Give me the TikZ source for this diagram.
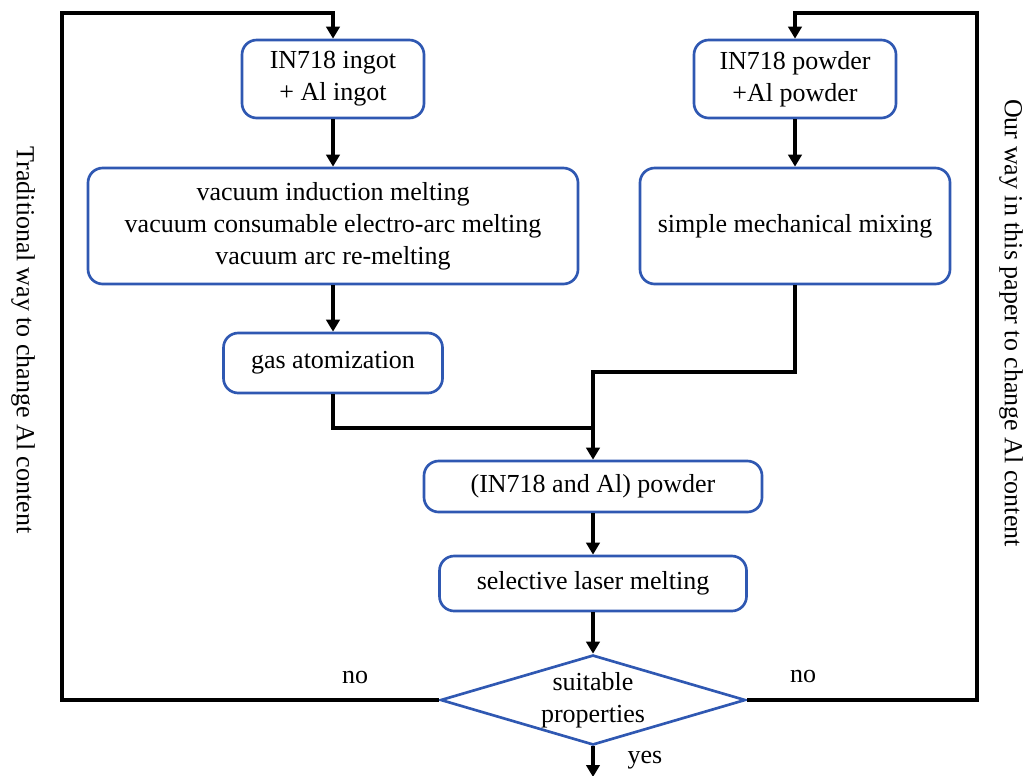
\documentclass[tikz,border=0pt]{standalone}
\usepackage{fontspec}
\setmainfont{Liberation Serif}
\usetikzlibrary{arrows.meta,shapes.geometric}
\definecolor{boxblue}{RGB}{47,88,178}

\tikzset{every picture/.style={line width=0.75pt}}

\begin{document}
\begin{tikzpicture}[x=0.75pt,y=0.75pt,yscale=-1,xscale=1,
	txt/.style={font=\fontsize{19.5}{24}\selectfont},
	procbox/.style={txt,draw=boxblue,line width=2pt,rounded corners=11pt,align=center,inner sep=0pt,execute at end node={\vspace*{-6pt}}},
	decbox/.style={txt,diamond,draw=boxblue,line width=2pt,align=center,inner sep=0pt,aspect=3.4},
	flow/.style={line width=3pt,-{Triangle[width=10pt,length=9pt]}},
	bare/.style={line width=3pt}]
	\useasboundingbox (0,0) rectangle (1031,775);

	%Shape: Rounded Rect [id:ingot] 
	\node [procbox,minimum width=136.5pt,minimum height=58.5pt] (ingot) at (333,79) {IN718 ingot\\+ Al ingot};
	%Shape: Rounded Rect [id:vacmelt] 
	\node [procbox,minimum width=367.5pt,minimum height=87pt] (vacmelt) at (333,226) {vacuum induction melting\\vacuum consumable electro-arc melting\\vacuum arc re-melting};
	%Shape: Rounded Rect [id:gas] 
	\node [procbox,minimum width=164.25pt,minimum height=45pt] (gas) at (333,363) {gas atomization};
	%Shape: Rounded Rect [id:powder] 
	\node [procbox,minimum width=151.5pt,minimum height=58.5pt] (powder) at (795,79) {IN718 powder\\+Al powder};
	%Shape: Rounded Rect [id:mixing] 
	\node [procbox,minimum width=232.5pt,minimum height=87pt] (mixing) at (795,226) {simple mechanical mixing};
	%Shape: Rounded Rect [id:mixed] 
	\node [procbox,minimum width=253.5pt,minimum height=38.25pt] (mixed) at (593,486.5) {(IN718 and Al) powder};
	%Shape: Rounded Rect [id:slm] 
	\node [procbox,minimum width=230.25pt,minimum height=41.25pt] (slm) at (593,583.5) {selective laser melting};
	%Shape: Diamond [id:dec] 
	\node [decbox,minimum width=228.75pt,minimum height=67.5pt] (dec) at (593,700) {suitable\\properties};

	%Corner points
	\coordinate (leftrail) at (62,13);
	\coordinate (rightrail) at (977,13);
	\coordinate (joinA) at (593,428);
	\coordinate (joinB) at (593,372);
	\coordinate (out) at (593,777);

	%Straight Lines 
	\draw [flow] (ingot) -- (vacmelt);
	\draw [flow] (vacmelt) -- (gas);
	\draw [flow] (powder) -- (mixing);
	\draw [bare] (gas.south) |- (joinA);
	\draw [flow] (mixing.south) |- (joinB) -- (mixed.north);
	\draw [flow] (mixed) -- (slm);
	\draw [flow] (slm) -- (dec);
	\draw [flow] (dec) -- (out);
	%Feedback loops
	\draw [flow] (dec.west) -| (leftrail) -| (ingot.north);
	\draw [flow] (dec.east) -| (rightrail) -| (powder.north);

	% Text Node
	\node [txt,rotate=-90] (trad) at (23,340) {Traditional way to change Al content};
	% Text Node
	\node [txt,rotate=-90] (ours) at (1011,323) {Our way in this paper to change Al content};
	% Text Node
	\node [txt] (noL) at (355,677) {no};
	% Text Node
	\node [txt] (noR) at (803,676) {no};
	% Text Node
	\node [txt] (yes) at (645,760) {yes};
\end{tikzpicture}
\end{document}
